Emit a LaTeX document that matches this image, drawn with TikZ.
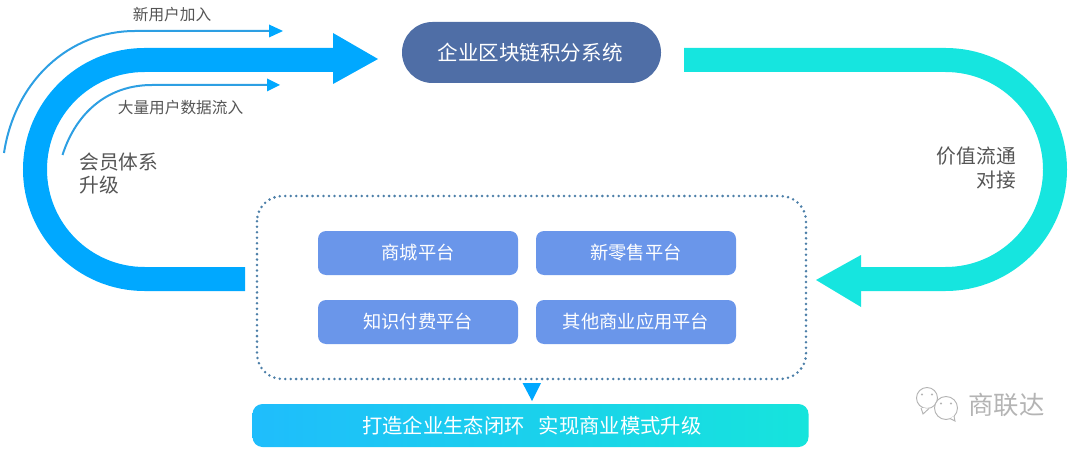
\documentclass[tikz,border=0pt]{standalone}
\usepackage{fontspec}
\setmainfont{Noto Sans CJK SC}
\definecolor{bandblue}{HTML}{00A8FF}
\definecolor{bandcyan}{HTML}{16E5DF}
\definecolor{thinblue}{HTML}{2D9FE3}
\definecolor{navybox}{HTML}{4F6EA6}
\definecolor{platbox}{HTML}{6A96EA}
\definecolor{dotblue}{HTML}{4C7FA8}
\definecolor{labelgray}{HTML}{555555}
\definecolor{markgray}{HTML}{B4B4B4}
\definecolor{goalleft}{HTML}{1FBDFC}
\definecolor{goalright}{HTML}{16E4DC}
\tikzset{
  x=0.75pt,y=-0.75pt,
  band/.style={line width=18pt},
  thinline/.style={thinblue,line width=1.5pt},
  platform/.style={fill=platbox,rounded corners=6pt,minimum width=150pt,minimum height=33pt,inner sep=0pt,text=white,font=\fontsize{13.7}{16}\selectfont},
  sidetext/.style={text=labelgray,font=\fontsize{14.8}{17.2}\selectfont,inner sep=0pt},
  smalltext/.style={text=labelgray,font=\fontsize{11.75}{14}\selectfont,inner sep=0pt},
  markbubble/.style={draw=markgray,fill=white,line width=0.7pt},
}
\begin{document}
\begin{tikzpicture}
\useasboundingbox (0,0) rectangle (1080,452);
% main nodes
\node[fill=navybox,rounded corners=22.8pt,minimum width=194.25pt,minimum height=45.75pt,inner sep=0pt,text=white,font=\fontsize{15.4}{18}\selectfont] (core) at (531.5,52.5) {\hspace*{-2pt}企业区块链积分系统};
\draw[dotblue,line width=2.1pt,line cap=round,dash pattern=on 0pt off 4.1pt,rounded corners=19pt] (257,196) rectangle (806,379);
\coordinate (frameS) at (532,379);
\node[platform] (shop) at (418,253) {商城平台};
\node[platform] (retail) at (636,253) {新零售平台};
\node[platform] (know) at (418,322) {知识付费平台};
\node[platform] (other) at (636,322) {其他商业应用平台};
\node[left color=goalleft,right color=goalright,rounded corners=7.5pt,minimum width=417pt,minimum height=32.25pt,inner sep=0pt,text=white,font=\fontsize{15.25}{18}\selectfont] (goal) at (530.5,425.5) {\hspace*{2pt}打造企业生态闭环\hspace{10.5pt}实现商业模式升级};
% small triangle
\fill[bandblue] (522.5,383) -- (541,383) -- (532,401) -- cycle;
% blue band
\coordinate (blueStart) at (245,279);
\coordinate (blueEnd) at (334,60);
\coordinate (blueTip) at (378,59);
\draw[band,bandblue] (blueStart) -- (144.5,279) .. controls (84,279) and (35,230) .. (35,169.5) .. controls (35,109) and (84,60) .. (144.5,60) -- (blueEnd);
\fill[bandblue] (333,33) -- (blueTip) -- (333,84) -- cycle;
% cyan band
\coordinate (cyanStart) at (684,60);
\coordinate (cyanEnd) at (860,279);
\coordinate (cyanTip) at (816,280);
\draw[band,bandcyan] (cyanStart) -- (945.5,60) .. controls (1006,60) and (1055,109) .. (1055,169.5) .. controls (1055,230) and (1006,279) .. (945.5,279) -- (cyanEnd);
\fill[bandcyan] (861,255) -- (cyanTip) -- (861,307) -- cycle;
% thin arrows
\coordinate (newStart) at (4,153);
\coordinate (newEnd) at (270,31);
\coordinate (newTip) at (283,31);
\draw[thinline] (newStart) .. controls (15,80) and (70,31) .. (135,31) -- (newEnd);
\fill[bandblue] (269,24.5) -- (newTip) -- (269,37.5) -- cycle;
\coordinate (dataStart) at (62.5,155);
\coordinate (dataEnd) at (268,85);
\coordinate (dataTip) at (280,85);
\draw[thinline] (dataStart) .. controls (77,110) and (110,85) .. (152,85) -- (dataEnd);
\fill[bandblue] (267,78.5) -- (dataTip) -- (267,91.5) -- cycle;
% labels
\node[smalltext] (lnew) at (172,15) {新用户加入};
\node[smalltext] (ldata) at (180.5,107.5) {大量用户数据流入};
\node[sidetext,anchor=west] (lmember1) at (79,162) {会员体系};
\node[sidetext,anchor=west] (lmember2) at (79,185) {升级};
\node[sidetext,anchor=east] (lvalue1) at (1016,156.5) {价值流通};
\node[sidetext,anchor=east] (lvalue2) at (1016,180) {对接};
% watermark
\draw[markbubble] (927,398) circle[radius=10.5];
\draw[markbubble] (921,408) -- (923,414) -- (929,408.5);
\fill[markgray] (922,394.5) circle[radius=1.1] (932,394.5) circle[radius=1.1];
\draw[markbubble] (946,408) circle[radius=11.5];
\draw[markbubble] (950,418.5) -- (955,421) -- (954,416);
\fill[markgray] (941,403.5) circle[radius=1.1] (951,403.5) circle[radius=1.1];
\node[text=markgray,inner sep=0pt,font=\fontsize{19}{22}\selectfont] (mark) at (1006.5,405) {商联达};
\end{tikzpicture}
\end{document}
